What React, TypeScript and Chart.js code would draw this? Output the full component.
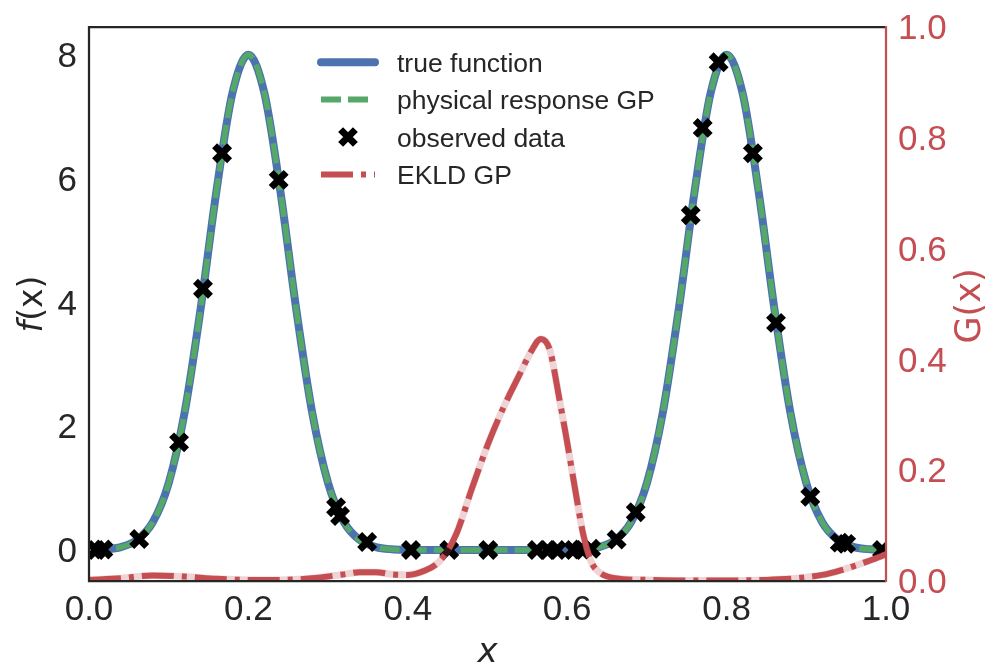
import React, { useEffect, useRef } from "react";
import { Chart, registerables } from "chart.js";

Chart.register(...registerables);

// ---------- data ----------
const curveX = [
  0, 0.02, 0.04, 0.06, 0.08, 0.1, 0.12, 0.14, 0.16, 0.18, 0.2, 0.22, 0.24, 0.26, 0.28, 0.3, 0.32,
  0.34, 0.36, 0.38, 0.4, 0.42, 0.44, 0.46, 0.48, 0.5, 0.52, 0.54, 0.56, 0.58, 0.6, 0.62, 0.64,
  0.66, 0.68, 0.7, 0.72, 0.74, 0.76, 0.78, 0.8, 0.82, 0.84, 0.86, 0.88, 0.9, 0.92, 0.94, 0.96,
  0.98, 1.0,
];
const trueFunction = [
  0.003, 0.012, 0.048, 0.159, 0.449, 1.083, 2.224, 3.894, 5.809, 7.385, 8.0, 7.385, 5.809, 3.894,
  2.224, 1.083, 0.449, 0.159, 0.048, 0.012, 0.003, 0, 0, 0, 0, 0, 0, 0, 0, 0, 0.003, 0.012, 0.048,
  0.159, 0.449, 1.083, 2.224, 3.894, 5.809, 7.385, 8.0, 7.385, 5.809, 3.894, 2.224, 1.083, 0.449,
  0.159, 0.048, 0.012, 0.003,
];
const physicalGP = [
  0.003, 0.012, 0.048, 0.159, 0.449, 1.083, 2.224, 3.894, 5.809, 7.385, 8.0, 7.385, 5.809, 3.894,
  2.224, 1.083, 0.449, 0.159, 0.048, 0.012, 0.003, 0, 0, 0, 0, 0, 0, 0, 0, 0, 0.003, 0.012, 0.048,
  0.159, 0.449, 1.083, 2.224, 3.894, 5.809, 7.385, 8.0, 7.385, 5.809, 3.894, 2.224, 1.083, 0.449,
  0.159, 0.048, 0.012, 0.003,
];
const observedX = [
  0.009, 0.018, 0.063, 0.113, 0.143, 0.167, 0.238, 0.31, 0.315, 0.349, 0.404, 0.452, 0.501, 0.562,
  0.576, 0.587, 0.608, 0.618, 0.63, 0.662, 0.686, 0.755, 0.77, 0.79, 0.833, 0.862, 0.905, 0.942,
  0.95, 0.995,
];
const observedY = [
  0.0, 0.01, 0.18, 1.74, 4.22, 6.41, 5.98, 0.69, 0.55, 0.13, 0, 0, 0, 0, 0, 0, 0.0, 0.01, 0.02,
  0.17, 0.61, 5.41, 6.82, 7.88, 6.41, 3.67, 0.86, 0.12, 0.1, 0.0,
];
const ekldX = [
  0, 0.04, 0.08, 0.12, 0.16, 0.2, 0.24, 0.28, 0.32, 0.34, 0.36, 0.38, 0.4, 0.42, 0.44, 0.46, 0.48,
  0.5, 0.52, 0.54, 0.555, 0.567, 0.578, 0.59, 0.6, 0.61, 0.62, 0.63, 0.64, 0.66, 0.7, 0.75, 0.8,
  0.85, 0.88, 0.9, 0.92, 0.94, 0.96, 0.98, 1.0,
];
const ekldG = [
  0.002, 0.005, 0.01, 0.008, 0.004, 0.002, 0.002, 0.005, 0.012, 0.016, 0.016, 0.012, 0.011, 0.018,
  0.036, 0.082, 0.165, 0.245, 0.313, 0.372, 0.415, 0.437, 0.418, 0.33, 0.25, 0.165, 0.085, 0.035,
  0.016, 0.005, 0.002, 0.001, 0.001, 0.002, 0.004, 0.007, 0.011, 0.018, 0.027, 0.037, 0.048,
];
const xTicks = [0, 0.2, 0.4, 0.6, 0.8, 1.0];
const fTicks = [0, 2, 4, 6, 8];
const gTicks = [0, 0.2, 0.4, 0.6, 0.8, 1.0];

const legendLabels = ["true function", "physical response GP", "observed data", "EKLD GP"];

// ---------- styles ----------
const BLUE = "#4C72B0";
const GREEN = "#55A868";
const RED = "#C44E52";
const DARK = "#262626";
const TICK_FONT = "'Liberation Sans', Arial, sans-serif";
const MATH_FONT = "'DejaVu Sans', sans-serif";
const TICK_SIZE = 35;

const W = 987;
const H = 664;

function drawParts(
  ctx: CanvasRenderingContext2D,
  parts: [string, boolean][],
  cx: number,
  cy: number,
  size: number,
  color: string,
  rotate: boolean
) {
  ctx.save();
  ctx.fillStyle = color;
  ctx.textBaseline = "alphabetic";
  ctx.textAlign = "left";
  let total = 0;
  const widths: number[] = [];
  for (const [t, it] of parts) {
    ctx.font = `${it ? "italic " : ""}${size}px ${MATH_FONT}`;
    const w = ctx.measureText(t).width;
    widths.push(w);
    total += w;
  }
  ctx.translate(cx, cy);
  if (rotate) ctx.rotate(-Math.PI / 2);
  let x = -total / 2;
  const base = 0.33 * size;
  parts.forEach(([t, it], i) => {
    ctx.font = `${it ? "italic " : ""}${size}px ${MATH_FONT}`;
    ctx.fillText(t, x, base);
    x += widths[i];
  });
  ctx.restore();
}

function drawX(ctx: CanvasRenderingContext2D, cx: number, cy: number, r: number, lw: number) {
  ctx.save();
  ctx.strokeStyle = "#000";
  ctx.lineWidth = lw;
  ctx.lineCap = "butt";
  ctx.beginPath();
  ctx.moveTo(cx - r, cy - r);
  ctx.lineTo(cx + r, cy + r);
  ctx.moveTo(cx + r, cy - r);
  ctx.lineTo(cx - r, cy + r);
  ctx.stroke();
  ctx.restore();
}

const decorPlugin = {
  id: "decor",
  afterDraw(chart: any) {
    const ctx: CanvasRenderingContext2D = chart.ctx;
    const a = chart.chartArea;
    // spines
    ctx.save();
    ctx.lineWidth = 2.25;
    ctx.strokeStyle = DARK;
    ctx.beginPath();
    ctx.moveTo(a.right, a.top);
    ctx.lineTo(a.left, a.top);
    ctx.lineTo(a.left, a.bottom);
    ctx.lineTo(a.right, a.bottom);
    ctx.stroke();
    ctx.strokeStyle = RED;
    ctx.beginPath();
    ctx.moveTo(a.right, a.top - 1.1);
    ctx.lineTo(a.right, a.bottom + 1.1);
    ctx.stroke();
    ctx.restore();

    // legend
    const x0 = 321;
    const x1 = 375;
    const textX = 397;
    const rowStep = 37.4;
    const firstCenter = 62.2;
    ctx.save();
    legendLabels.forEach((label, i) => {
      const cy = firstCenter + i * rowStep;
      ctx.save();
      if (i === 0) {
        ctx.strokeStyle = BLUE;
        ctx.lineWidth = 8;
        ctx.lineCap = "round";
        ctx.beginPath();
        ctx.moveTo(x0, cy);
        ctx.lineTo(x1, cy);
        ctx.stroke();
      } else if (i === 1) {
        ctx.strokeStyle = GREEN;
        ctx.lineWidth = 6;
        ctx.lineCap = "butt";
        ctx.setLineDash([20, 7]);
        ctx.beginPath();
        ctx.moveTo(x0, cy);
        ctx.lineTo(x1, cy);
        ctx.stroke();
      } else if (i === 2) {
        drawX(ctx, (x0 + x1) / 2, cy, 7.4, 7);
      } else {
        ctx.strokeStyle = RED;
        ctx.lineWidth = 6;
        ctx.lineCap = "butt";
        ctx.setLineDash([32, 8, 5, 8]);
        ctx.beginPath();
        ctx.moveTo(x0, cy);
        ctx.lineTo(x1, cy);
        ctx.stroke();
      }
      ctx.restore();
      ctx.fillStyle = DARK;
      ctx.font = `26.5px ${TICK_FONT}`;
      ctx.textBaseline = "alphabetic";
      ctx.textAlign = "left";
      ctx.fillText(label, textX, cy + 9.8);
    });
    ctx.restore();

    // axis titles
    drawParts(ctx, [["f", true], ["(x)", false]], 31, 304, 33, DARK, true);
    drawParts(ctx, [["G(x)", false]], 968, 306, 35, RED, true);
    drawParts(ctx, [["x", true]], 487.5, 651, 34, DARK, false);
  },
};

export default function App() {
  const ref = useRef<HTMLCanvasElement | null>(null);

  useEffect(() => {
    if (!ref.current) return;
    const pts = (xs: number[], ys: number[]) => xs.map((x, i) => ({ x, y: ys[i] }));
    const tickFont = { family: TICK_FONT, size: TICK_SIZE };
    const chart = new Chart(ref.current, {
      type: "line",
      data: {
        datasets: [
          {
            label: "EKLD GP",
            data: pts(ekldX, ekldG),
            yAxisID: "y2",
            borderColor: RED,
            borderWidth: 6,
            borderDash: [32, 8, 5, 8],
            borderCapStyle: "butt",
            pointRadius: 0,
            cubicInterpolationMode: "monotone",
            fill: false,
            clip: 0,
            order: 0,
          },
          {
            label: "EKLD band",
            data: pts(ekldX, ekldG),
            yAxisID: "y2",
            borderColor: "rgba(196,78,82,0.25)",
            borderWidth: 7,
            pointRadius: 0,
            cubicInterpolationMode: "monotone",
            fill: false,
            clip: 0,
            order: 1,
          },
          {
            label: "observed data",
            data: pts(observedX, observedY),
            yAxisID: "y",
            showLine: false,
            pointStyle: "crossRot",
            pointRadius: 10.6,
            pointBorderWidth: 7,
            pointBorderColor: "#000",
            pointBackgroundColor: "#000",
            clip: 0,
            order: 2,
          },
          {
            label: "physical response GP",
            data: pts(curveX, physicalGP),
            yAxisID: "y",
            borderColor: GREEN,
            borderWidth: 5.5,
            borderDash: [20, 7],
            borderCapStyle: "butt",
            pointRadius: 0,
            cubicInterpolationMode: "monotone",
            fill: false,
            clip: 0,
            order: 3,
          },
          {
            label: "true function",
            data: pts(curveX, trueFunction),
            yAxisID: "y",
            borderColor: BLUE,
            borderWidth: 8,
            borderCapStyle: "round",
            borderJoinStyle: "round",
            pointRadius: 0,
            cubicInterpolationMode: "monotone",
            fill: false,
            clip: 0,
            order: 4,
          },
        ],
      },
      options: {
        responsive: false,
        animation: false,
        devicePixelRatio: 1,
        layout: { padding: { top: 27, left: 0, right: 0, bottom: 0 } },
        plugins: {
          legend: { display: false },
          tooltip: { enabled: false },
          title: { display: false },
        },
        scales: {
          x: {
            type: "linear",
            position: "bottom",
            min: 0,
            max: 1,
            grid: { display: false, drawTicks: false },
            border: { display: false },
            afterBuildTicks: (s: any) => {
              s.ticks = xTicks.map((v) => ({ value: v }));
            },
            afterFit: (s: any) => {
              s.height = 83;
              s.paddingLeft = 0;
              s.paddingRight = 0;
            },
            ticks: {
              autoSkip: false,
              maxRotation: 0,
              padding: 8,
              color: DARK,
              font: tickFont,
              callback: (v: any) => Number(v).toFixed(1),
            },
          },
          y: {
            type: "linear",
            position: "left",
            min: -0.5,
            max: 8.45,
            grid: { display: false, drawTicks: false },
            border: { display: false },
            afterBuildTicks: (s: any) => {
              s.ticks = fTicks.map((v) => ({ value: v }));
            },
            afterFit: (s: any) => {
              s.width = 89;
              s.paddingTop = 0;
              s.paddingBottom = 0;
            },
            ticks: {
              autoSkip: false,
              padding: 12,
              labelOffset: 2.5,
              color: DARK,
              font: tickFont,
              callback: (v: any) => String(v),
            },
          },
          y2: {
            type: "linear",
            position: "right",
            min: 0,
            max: 1,
            grid: { display: false, drawTicks: false },
            border: { display: false },
            afterBuildTicks: (s: any) => {
              s.ticks = gTicks.map((v) => ({ value: v }));
            },
            afterFit: (s: any) => {
              s.width = 101;
              s.paddingTop = 0;
              s.paddingBottom = 0;
            },
            ticks: {
              autoSkip: false,
              padding: 12,
              labelOffset: 2.5,
              color: RED,
              font: tickFont,
              callback: (v: any) => Number(v).toFixed(1),
            },
          },
        },
      } as any,
      plugins: [decorPlugin],
    });
    return () => chart.destroy();
  }, []);

  return (
    <div style={{ position: "fixed", left: 0, top: 0, width: W, height: H, background: "#fff" }}>
      <canvas ref={ref} width={W} height={H} style={{ width: W, height: H, display: "block" }} />
    </div>
  );
}
